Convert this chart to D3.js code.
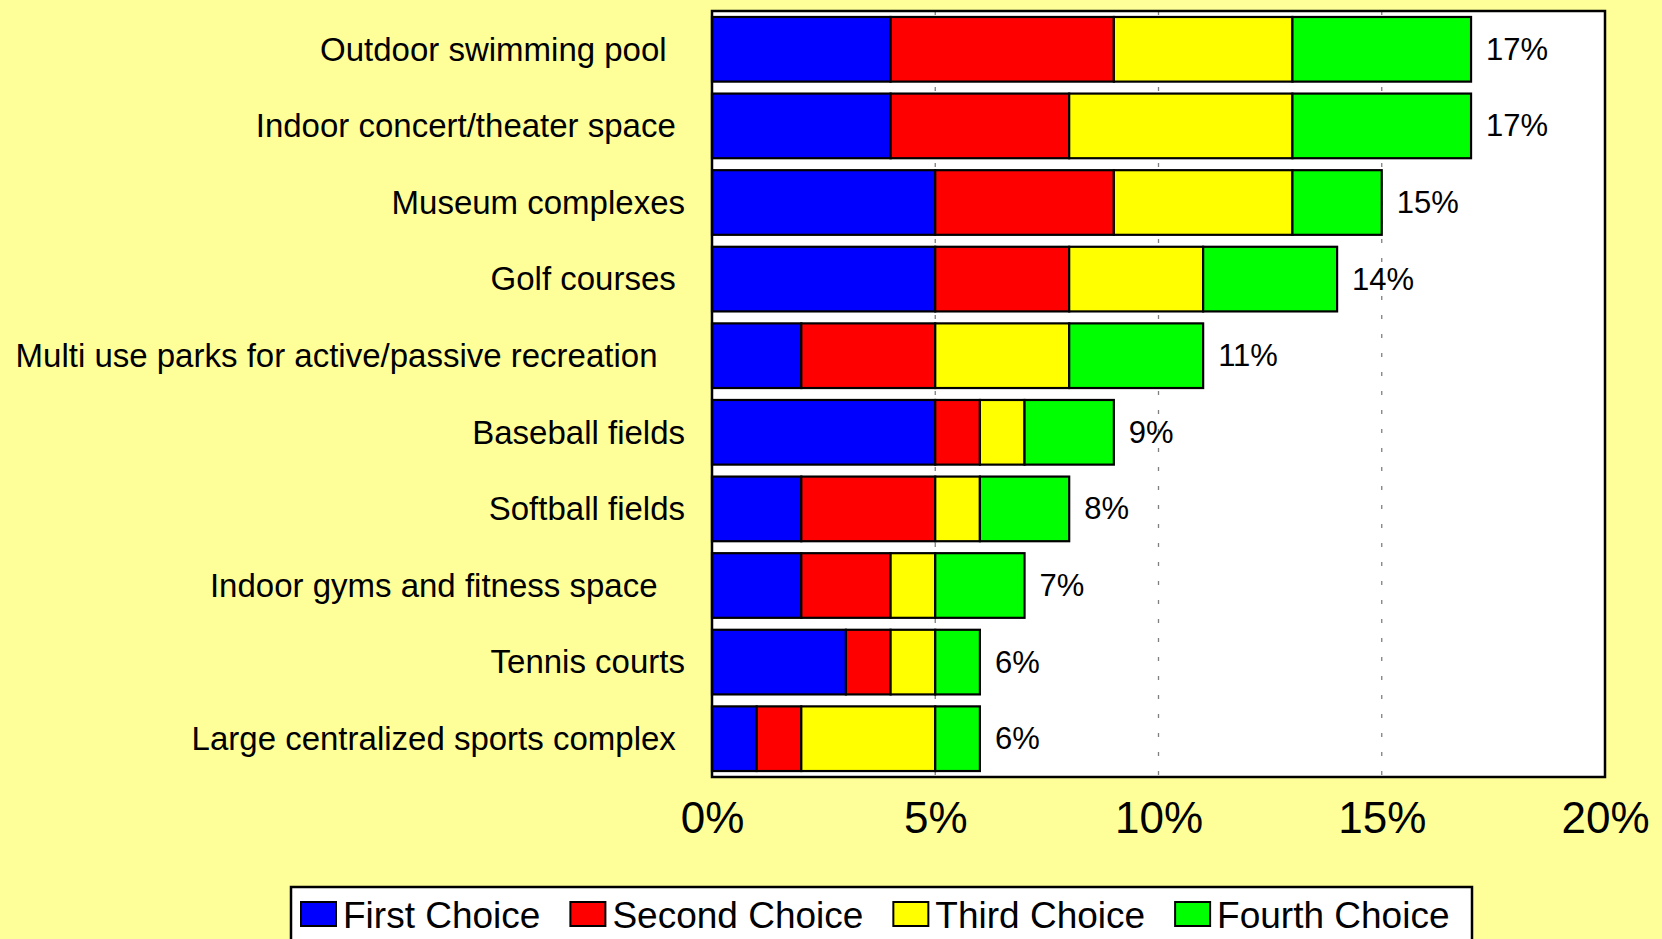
<!DOCTYPE html>
<html>
<head>
<meta charset="utf-8">
<script src="https://cdn.jsdelivr.net/npm/d3@7/dist/d3.min.js"></script>
<style>
  html, body { margin: 0; padding: 0; background: #FFFF99; }
  svg { display: block; font-family: "Liberation Sans", Arial, sans-serif; }
  .cat { white-space: pre; }
</style>
</head>
<body>
<svg id="chart" width="1662" height="939"></svg>
<script>
// ---------- data ----------
const categories = [
  "Outdoor swimming pool  ",
  "Indoor concert/theater space ",
  "Museum complexes",
  "Golf courses ",
  "Multi use parks for active/passive recreation   ",
  "Baseball fields",
  "Softball fields",
  "Indoor gyms and fitness space   ",
  "Tennis courts",
  "Large centralized sports complex "
];
const seriesNames = ["First Choice", "Second Choice", "Third Choice", "Fourth Choice"];
const firstChoice  = [4, 4, 5, 5, 2, 5, 2, 2, 3, 1];
const secondChoice = [5, 4, 4, 3, 3, 1, 3, 2, 1, 1];
const thirdChoice  = [4, 5, 4, 3, 3, 1, 1, 1, 1, 3];
const fourthChoice = [4, 4, 2, 3, 3, 2, 2, 2, 1, 1];
const xTickValues = [0, 5, 10, 15, 20];
const xTickLabels = ["0%", "5%", "10%", "15%", "20%"];
const seriesColors = ["#0000FF", "#FF0000", "#FFFF00", "#00FF00"];

(function () {
// ---------- build table ----------
const keys = ["first", "second", "third", "fourth"];
const table = categories.map((c, i) => ({
  cat: c,
  first: firstChoice[i], second: secondChoice[i], third: thirdChoice[i], fourth: fourthChoice[i]
}));

const svg = d3.select("#chart");
const W = 1662, H = 939;
svg.append("rect").attr("width", W).attr("height", H).attr("fill", "#FFFF99");

const pL = 712, pR = 1605, pT = 11, pB = 777;

const x = d3.scaleLinear().domain([0, 20]).range([pL, pR]);
const y = d3.scaleBand().domain(categories).range([pT, pB])
  .paddingInner(0.156).paddingOuter(0.078);
const color = d3.scaleOrdinal().domain(keys).range(seriesColors);

// plot background
svg.append("rect").attr("x", pL).attr("y", pT)
  .attr("width", pR - pL).attr("height", pB - pT)
  .attr("fill", "#FFFFFF");

// gridlines
svg.append("g").selectAll("line").data(xTickValues.filter(v => v > 0 && v < 20)).join("line")
  .attr("x1", d => x(d)).attr("x2", d => x(d))
  .attr("y1", pT).attr("y2", pB)
  .attr("stroke", "#7f7f7f").attr("stroke-width", 1.3)
  .attr("stroke-dasharray", "4,15");

// stacked bars
const stacked = d3.stack().keys(keys)(table);
svg.append("g").selectAll("g").data(stacked).join("g")
  .attr("fill", d => color(d.key))
  .selectAll("rect").data(d => d).join("rect")
  .attr("x", d => x(d[0]))
  .attr("y", d => y(d.data.cat))
  .attr("width", d => x(d[1]) - x(d[0]))
  .attr("height", y.bandwidth())
  .attr("stroke", "#000").attr("stroke-width", 2.2);

// value labels
svg.append("g").selectAll("text").data(table).join("text")
  .attr("x", d => x(d3.sum(keys, k => d[k])) + 15)
  .attr("y", d => y(d.cat) + y.bandwidth() / 2)
  .attr("dy", "0.34em")
  .attr("font-size", 31)
  .attr("fill", "#000")
  .text(d => d3.sum(keys, k => d[k]) + "%");

// plot border
svg.append("rect").attr("x", pL).attr("y", pT)
  .attr("width", pR - pL).attr("height", pB - pT)
  .attr("fill", "none").attr("stroke", "#000").attr("stroke-width", 2.5);

// category labels (y axis)
const yAxis = d3.axisLeft(y).tickSize(0).tickPadding(27);
const gy = svg.append("g").attr("transform", `translate(${pL},0)`).call(yAxis);
gy.select(".domain").remove();
gy.selectAll("text")
  .attr("class", "cat")
  .attr("font-size", 33)
  .attr("font-family", "'Liberation Sans', Arial, sans-serif")
  .attr("fill", "#000")
  .attr("dy", "0.34em");

// x axis
const xAxis = d3.axisBottom(x).tickValues(xTickValues)
  .tickFormat((d, i) => xTickLabels[i]).tickSize(0);
const gx = svg.append("g").attr("transform", `translate(0,${pB})`).call(xAxis);
gx.select(".domain").remove();
gx.selectAll("text")
  .attr("font-size", 44)
  .attr("font-family", "'Liberation Sans', Arial, sans-serif")
  .attr("fill", "#000")
  .attr("y", 56).attr("dy", 0);

// legend
const legend = svg.append("g");
legend.append("rect").attr("x", 291).attr("y", 887)
  .attr("width", 1472 - 291).attr("height", 80)
  .attr("fill", "#FFFFFF").attr("stroke", "#000").attr("stroke-width", 2.5);
let lx = 301;
seriesNames.forEach((name, i) => {
  legend.append("rect").attr("x", lx).attr("y", 902)
    .attr("width", 35).attr("height", 24)
    .attr("fill", seriesColors[i]).attr("stroke", "#000").attr("stroke-width", 2);
  const t = legend.append("text").attr("x", lx + 42).attr("y", 928)
    .attr("font-size", 37).attr("fill", "#000").text(name);
  const w = t.node().getComputedTextLength();
  lx = lx + 42 + w + 30;
});
})();
</script>
</body>
</html>
